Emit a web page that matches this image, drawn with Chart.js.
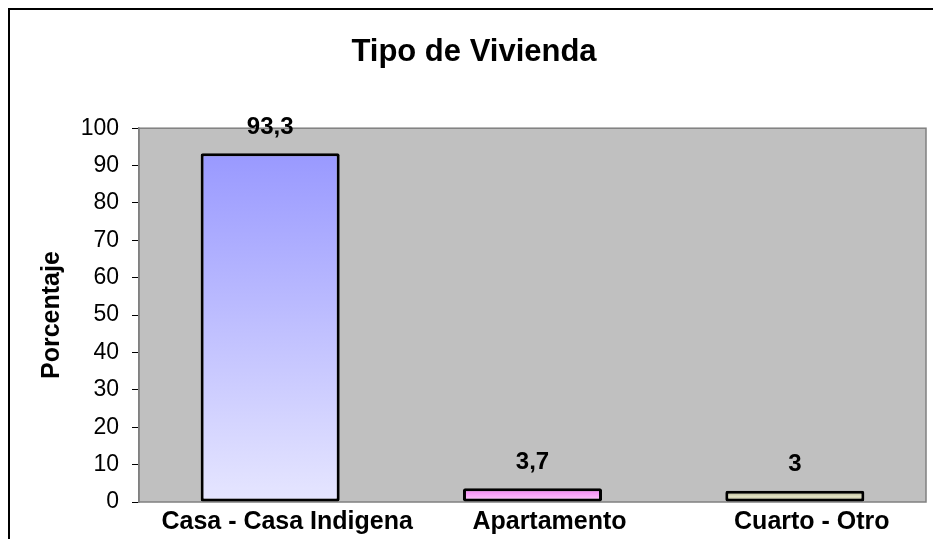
<!DOCTYPE html>
<html>

<head>
    <title>Tipo de Vivienda</title>
    <script src="https://cdn.jsdelivr.net/npm/chart.js"></script>
    <style>
        body { margin: 0; background: #fff; }
    </style>
</head>

<body>
    <canvas id="viviendaChart" width="933" height="539"></canvas>

    <script>
        // Data
        const categories = ['Casa - Casa Indigena', 'Apartamento', 'Cuarto - Otro'];
        const percentages = [93.3, 3.7, 3];
        const yTicks = [0, 10, 20, 30, 40, 50, 60, 70, 80, 90, 100];

        // gradient stops for each bar (top -> bottom)
        const barGradients = [
            ['#9999FF', '#E6E6FF'],
            ['#F27CF2', '#FFD2FF'],
            ['#A4A47E', '#E2E2C4', '#ACAC86']
        ];

        const FONT = '"Liberation Sans", Arial, sans-serif';
        const fmt = v => String(v).replace('.', ',');

        // gray plot background + frame around the whole chart
        const backgroundPlugin = {
            id: 'plotBackground',
            beforeDraw(chart) {
                const { ctx, chartArea } = chart;
                ctx.save();
                ctx.fillStyle = '#C0C0C0';
                ctx.fillRect(chartArea.left, chartArea.top, chartArea.right - chartArea.left, chartArea.bottom - chartArea.top);
                ctx.strokeStyle = '#808080';
                ctx.lineWidth = 1.5;
                ctx.strokeRect(chartArea.left, chartArea.top, chartArea.right - chartArea.left, chartArea.bottom - chartArea.top);
                ctx.restore();
            },
            afterDraw(chart) {
                const ctx = chart.ctx;
                ctx.save();
                ctx.strokeStyle = '#000';
                ctx.lineWidth = 2;
                ctx.strokeRect(9, 9, 1000, 1000);
                ctx.restore();
            }
        };

        // value labels above the bars
        const valueLabels = {
            id: 'valueLabels',
            afterDatasetsDraw(chart) {
                const ctx = chart.ctx;
                const meta = chart.getDatasetMeta(0);
                ctx.save();
                ctx.font = 'bold 24px ' + FONT;
                ctx.fillStyle = '#000';
                ctx.textAlign = 'center';
                ctx.textBaseline = 'middle';
                meta.data.forEach((bar, i) => {
                    ctx.fillText(fmt(percentages[i]), bar.x, bar.y - 26);
                });
                ctx.restore();
            }
        };

        const ctx = document.getElementById('viviendaChart').getContext('2d');
        const chart = new Chart(ctx, {
            type: 'bar',
            data: {
                labels: categories,
                datasets: [{
                    data: percentages,
                    backgroundColor: (c) => {
                        const chart = c.chart;
                        if (!chart.chartArea || c.dataIndex === undefined) return '#ccc';
                        const y = chart.scales.y;
                        const top = y.getPixelForValue(percentages[c.dataIndex]);
                        const bottom = y.getPixelForValue(0);
                        const stops = barGradients[c.dataIndex];
                        const g = chart.ctx.createLinearGradient(0, top, 0, bottom);
                        stops.forEach((col, k) => g.addColorStop(k / (stops.length - 1), col));
                        return g;
                    },
                    borderColor: '#000',
                    borderWidth: 3,
                    borderRadius: 2,
                    borderSkipped: false,
                    categoryPercentage: 1,
                    barPercentage: 0.53
                }]
            },
            plugins: [backgroundPlugin, valueLabels],
            options: {
                responsive: false,
                animation: false,
                layout: {
                    padding: { left: 22, right: 7, top: 0, bottom: 0 }
                },
                plugins: {
                    legend: { display: false },
                    tooltip: { enabled: false },
                    title: {
                        display: true,
                        text: 'Tipo de Vivienda',
                        color: '#000',
                        font: { family: FONT, size: 31, weight: 'bold' },
                        padding: { top: 34, bottom: 57 }
                    }
                },
                scales: {
                    x: {
                        afterFit: (s) => { s.height = 37; },
                        grid: { display: false, drawTicks: false },
                        border: { display: false },
                        ticks: {
                            color: '#000',
                            padding: 5,
                            maxRotation: 0,
                            autoSkip: false,
                            labelOffset: 17,
                            font: { family: FONT, size: 25, weight: 'bold' }
                        }
                    },
                    y: {
                        min: 0,
                        max: 100,
                        afterFit: (s) => { s.width = 117; },
                        afterBuildTicks: (s) => { s.ticks = yTicks.map(v => ({ value: v })); },
                        grid: { drawOnChartArea: false, drawTicks: true, tickLength: 7, color: '#000' },
                        border: { color: '#808080', width: 1.5 },
                        ticks: {
                            color: '#000',
                            padding: 13,
                            font: { family: FONT, size: 23 }
                        },
                        title: {
                            display: true,
                            text: 'Porcentaje',
                            color: '#000',
                            padding: { top: 15, bottom: 0 },
                            font: { family: FONT, size: 25, weight: 'bold' }
                        }
                    }
                }
            }
        });
    </script>
</body>

</html>
